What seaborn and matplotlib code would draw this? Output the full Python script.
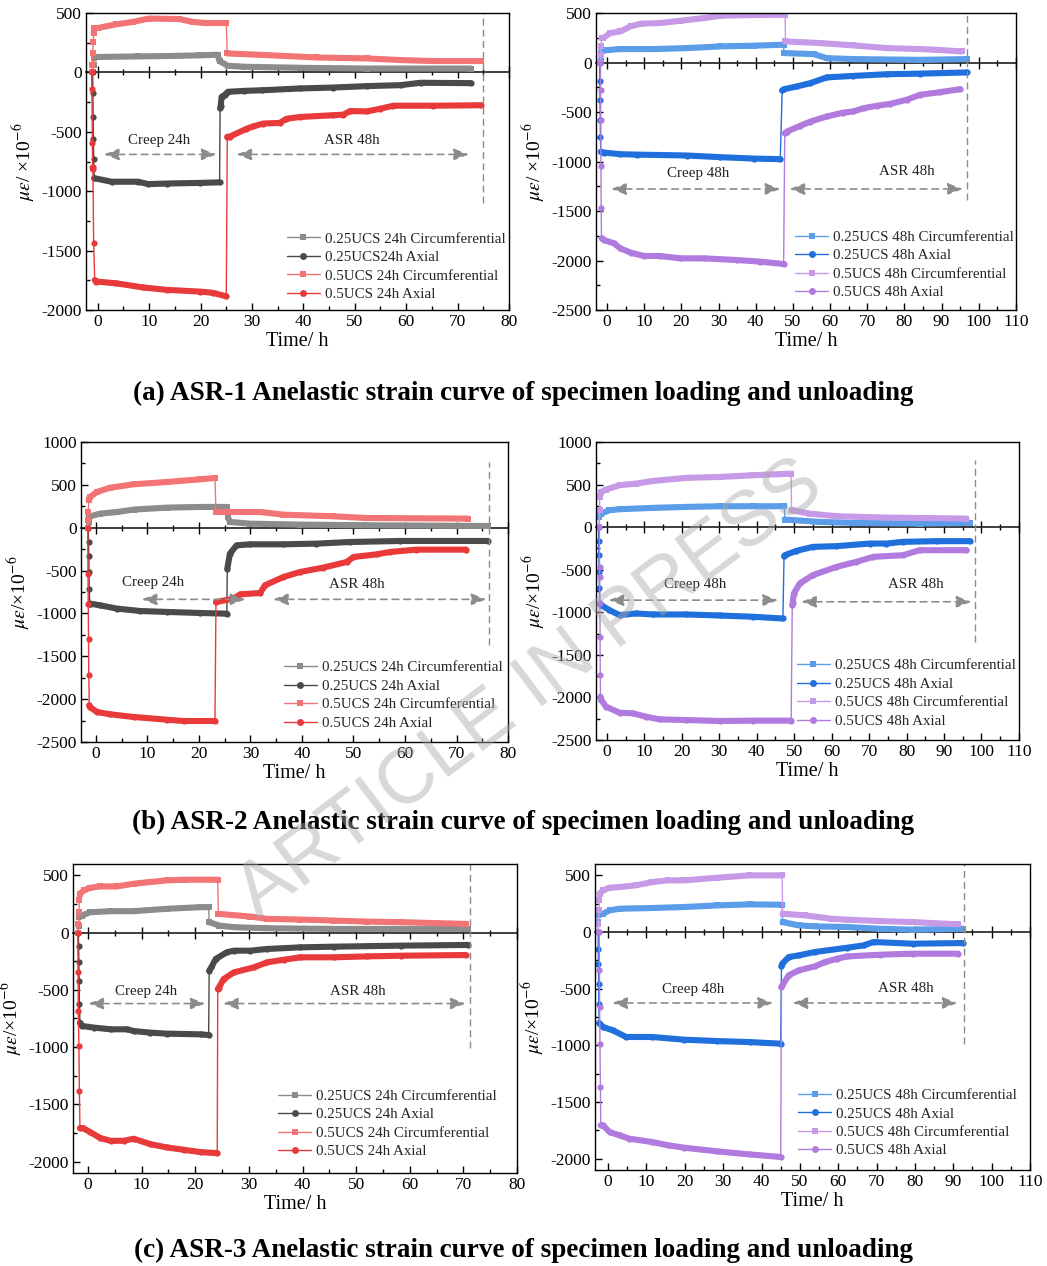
import numpy as np
import matplotlib
matplotlib.use("Agg")
import matplotlib.pyplot as plt
import seaborn as sns
import pandas as pd
from matplotlib.lines import Line2D
from matplotlib.ticker import MultipleLocator, NullFormatter

sns.set_theme(style="ticks")
plt.rcParams["font.family"] = ["Liberation Serif", "DejaVu Serif"]
plt.rcParams["mathtext.fontset"] = "stix"
plt.rcParams["axes.unicode_minus"] = False

# ---------------- (a) ASR-1, 24h ----------------
a1_c25_t = [-0.9, -0.8, -0.7, -0.3, 7.9, 13.4, 19.9, 23.3, 23.7, 25.3, 28.5, 39.3, 52.4, 72.6]
a1_c25_v = [0, 62, 118, 130, 135, 138, 144, 149, 95, 56, 48, 39, 33, 33]
a1_a25_t = [-1.0, -0.95, -0.9, -0.85, -0.8, -0.7, 2.7, 7.9, 9.8, 13.4, 19.9, 23.7, 23.8, 23.9,
            24.1, 24.7, 25.3, 28.5, 32.0, 39.3, 45.8, 52.4, 58.9, 62.8, 72.6]
a1_a25_v = [0, -176, -373, -558, -732, -890, -920, -920, -940, -935, -930, -925, -302, -285,
            -205, -190, -163, -155, -150, -135, -127, -115, -107, -87, -90]
a1_c50_t = [-1.2, -1.1, -1.0, -0.9, -0.8, -0.7, 0.1, 3.6, 6.8, 10.0, 15.9, 18.5, 21.0, 25.0,
            25.2, 32.8, 42.5, 52.4, 58.9, 65.3, 74.5]
a1_c50_v = [0, 62, 160, 258, 329, 371, 375, 405, 425, 454, 449, 425, 416, 416,
            160, 146, 126, 118, 104, 96, 96]
a1_a50_t = [-1.2, -1.15, -1.05, -1.0, -0.95, -0.8, -0.6, -0.3, 3.6, 8.8, 13.4, 19.9, 22.4, 25.0,
            25.2, 25.7, 28.9, 30.2, 32.2, 35.4, 36.7, 39.3, 45.8, 47.8, 49.1, 52.4, 55.0, 57.5,
            65.3, 74.5]
a1_a50_v = [0, -143, -597, -800, -815, -1439, -1748, -1760, -1775, -1810, -1830, -1845, -1855, -1885,
            -541, -540, -475, -455, -430, -425, -390, -375, -360, -355, -325, -328, -305, -280,
            -280, -276]

# ---------------- (a) ASR-1, 48h ----------------
a2_c25_t = [-1.8, -1.7, -1.6, -1.5, -1.1, 3.6, 12.5, 21.5, 30.5, 39.4, 47.5, 47.6, 55.6, 59.1,
            66.3, 84.2, 96.8]
a2_c25_v = [0, 34, 84, 118, 122, 136, 136, 146, 163, 170, 180, 96, 85, 44, 35, 27, 35]
a2_a25_t = [-2.0, -1.95, -1.9, -1.85, -1.8, -1.7, -0.9, 3.6, 8.1, 21.5, 30.5, 39.4, 46.6,
            47.1, 47.6, 51.0, 54.7, 59.1, 66.3, 75.3, 84.2, 96.8]
a2_a25_v = [0, -185, -377, -582, -751, -900, -909, -926, -930, -939, -956, -970, -976,
            -282, -269, -242, -208, -150, -135, -118, -112, -100]
a2_c50_t = [-1.8, -1.7, -1.6, -1.5, -1.1, 0.9, 3.6, 6.3, 9.0, 14.3, 19.7, 26.0, 30.5, 39.4, 47.9,
            48.0, 57.3, 66.3, 75.3, 84.2, 88.7, 95.4]
a2_c50_v = [0, 79, 163, 247, 247, 298, 315, 365, 392, 399, 422, 449, 473, 480, 483,
            213, 197, 173, 146, 136, 129, 112]
a2_a50_t = [-1.8, -1.75, -1.7, -1.65, -1.6, -1.5, -0.9, 1.8, 3.6, 6.3, 9.9, 14.3, 19.7, 26.0,
            34.9, 41.2, 47.5, 47.8, 48.4, 52.0, 54.7, 59.1, 63.6, 66.3, 69.0, 72.6, 76.2, 80.6,
            84.2, 89.6, 95.0]
a2_a50_v = [0, -282, -585, -1050, -1472, -1775, -1792, -1826, -1877, -1920, -1954, -1954, -1978, -1978,
            -1995, -2011, -2035, -714, -697, -639, -596, -545, -505, -494, -461, -437, -417, -376,
            -326, -299, -269]

# ---------------- (b) ASR-2, 24h ----------------
b1_c25_t = [-1.5, -1.45, -1.4, -1.1, 0.8, 4.1, 7.3, 13.8, 20.2, 25.4, 25.6, 26.0, 29.9, 39.6, 52.5, 76.1]
b1_c25_v = [0, 67, 125, 133, 164, 183, 211, 234, 242, 242, 125, 67, 47, 36, 28, 20]
b1_a25_t = [-1.5, -1.45, -1.4, -1.35, -1.3, -1.2, -1.1, 0.8, 4.1, 8.6, 13.8, 20.2, 25.4,
            25.5, 26.0, 27.3, 29.9, 36.4, 42.8, 49.3, 59.0, 76.1]
b1_a25_v = [0, -167, -334, -517, -711, -886, -886, -906, -944, -972, -983, -995, -1003,
            -478, -303, -206, -194, -194, -186, -167, -155, -155]
b1_c50_t = [-1.6, -1.55, -1.5, -1.4, -1.2, 0.2, 2.8, 7.3, 13.8, 20.2, 23.1,
            23.3, 31.9, 36.4, 46.1, 52.5, 72.2]
b1_c50_v = [0, 86, 183, 319, 358, 417, 467, 506, 533, 564, 580,
            183, 183, 152, 133, 113, 106]
b1_a50_t = [-1.6, -1.55, -1.5, -1.45, -1.4, -1.3, -1.2, 0.2, 2.8, 7.3, 13.8, 17.0, 23.1,
            23.3, 26.7, 28.0, 31.9, 32.8, 36.4, 39.6, 44.1, 48.7, 50.0, 54.5, 57.1, 62.2, 71.9]
b1_a50_v = [0, -544, -886, -1294, -1714, -2072, -2092, -2150, -2177, -2208, -2240, -2255, -2255,
            -867, -828, -777, -762, -672, -575, -517, -466, -400, -342, -311, -283, -256, -256]

# ---------------- (b) ASR-2, 48h ----------------
b2_c25_t = [-2.1, -2.0, -1.9, -1.5, 0.7, 3.4, 12.3, 21.2, 30.1, 39.0, 47.4,
            47.5, 56.8, 65.7, 83.5, 96.9]
b2_c25_v = [0, 117, 177, 159, 198, 210, 226, 237, 245, 245, 245, 89, 61, 50, 42, 50]
b2_a25_t = [-2.2, -2.15, -2.1, -2.05, -2.0, -1.9, -1.5, 0.7, 3.4, 7.8, 12.3, 21.2, 30.1, 39.0, 47.0,
            47.3, 47.5, 50.6, 55.0, 61.3, 70.2, 74.6, 79.1, 88.0, 96.9]
b2_a25_v = [0, -165, -330, -525, -721, -897, -916, -975, -1034, -1014, -1026, -1026, -1038, -1053, -1073,
            -342, -330, -279, -232, -224, -193, -193, -173, -165, -165]
b2_c50_t = [-2.0, -1.95, -1.9, -1.5, -0.2, 3.4, 7.8, 12.3, 21.2, 30.1, 39.0, 49.2,
            49.3, 54.1, 61.3, 74.6, 96.0]
b2_c50_v = [0, 196, 355, 413, 441, 492, 511, 542, 578, 589, 609, 628,
            198, 159, 128, 112, 100]
b2_a50_t = [-2.0, -1.95, -1.9, -1.85, -1.8, -1.75, -1.7, -1.5, -0.2, 3.4, 6.9, 10.5, 14.1, 21.2,
            30.1, 39.0, 49.2, 49.5, 49.6, 49.9, 51.5, 55.0, 61.3, 66.6, 71.1, 79.1, 83.5, 96.0]
b2_a50_v = [0, -467, -584, -897, -1288, -1738, -1992, -2031, -2109, -2180, -2187, -2227, -2258, -2266,
            -2277, -2273, -2273, -916, -897, -780, -662, -564, -467, -408, -349, -330, -271, -271]

# ---------------- (c) ASR-3, 24h ----------------
c1_c25_t = [-1.8, -1.75, -1.7, -1.1, 0.4, 4.2, 8.5, 14.7, 21.0, 22.5, 22.6, 24.5, 27.2, 33.4, 45.9, 70.8]
c1_c25_v = [0, 61, 135, 149, 178, 187, 187, 208, 222, 222, 91, 61, 47, 38, 32, 32]
c1_a25_t = [-1.8, -1.75, -1.7, -1.65, -1.6, -1.5, -1.1, 1.1, 4.2, 7.3, 8.5, 11.6, 14.7, 21.0, 22.5,
            22.6, 23.0, 23.8, 25.9, 27.2, 30.3, 33.4, 39.6, 45.9, 58.3, 70.8]
c1_a25_v = [0, -114, -260, -421, -620, -787, -816, -830, -845, -845, -860, -874, -883, -889, -895,
            -333, -304, -231, -172, -158, -158, -143, -129, -123, -114, -108]
c1_c50_t = [-1.9, -1.8, -1.7, -1.6, -1.5, -0.8, 0.4, 2.3, 5.4, 8.5, 11.6, 14.7, 17.9, 24.2,
            24.3, 30.3, 33.4, 39.6, 45.9, 52.1, 58.3, 70.4]
c1_c50_v = [0, 76, 178, 281, 339, 368, 392, 403, 403, 427, 442, 456, 462, 462,
            164, 140, 120, 114, 105, 96, 91, 76]
c1_a50_t = [-1.9, -1.85, -1.8, -1.7, -1.6, -1.5, -0.9, 0.4, 2.3, 4.2, 6.7, 8.5, 11.6, 14.7, 17.9,
            21.0, 24.1, 24.2, 24.4, 25.3, 27.2, 30.9, 33.4, 36.5, 39.6, 45.9, 52.1, 58.3, 70.4]
c1_a50_v = [0, -348, -684, -991, -1380, -1708, -1708, -1743, -1795, -1819, -1819, -1801, -1848, -1877,
            -1898, -1918, -1927, -494, -480, -406, -348, -304, -260, -237, -216, -216, -208, -202, -196]

# ---------------- (c) ASR-3, 48h ----------------
c2_c25_t = [-2.6, -2.55, -2.5, -1.3, 0.4, 3.0, 11.5, 19.9, 28.4, 36.9, 45.4,
            45.5, 49.7, 53.9, 62.4, 70.9, 79.4, 92.5]
c2_c25_v = [0, 88, 147, 162, 191, 206, 212, 221, 235, 244, 241, 88, 59, 50, 44, 29, 21, 29]
c2_a25_t = [-2.6, -2.55, -2.5, -2.45, -2.4, -2.3, -1.3, 1.3, 4.7, 11.5, 19.9, 28.4, 36.9, 45.0,
            45.2, 45.4, 47.1, 49.7, 53.9, 62.4, 66.6, 69.2, 79.4, 92.5]
c2_a25_v = [0, -147, -285, -456, -632, -803, -838, -868, -926, -926, -950, -962, -971, -985,
            -303, -279, -221, -206, -176, -138, -118, -88, -103, -97]
c2_c50_t = [-2.6, -2.5, -2.4, -2.3, -2.2, -1.3, 0.4, 3.0, 7.2, 11.5, 15.7, 19.9, 28.4, 36.9, 45.4,
            45.5, 51.4, 58.1, 62.4, 70.9, 79.4, 91.3]
c2_c50_v = [0, 74, 191, 279, 338, 368, 391, 397, 412, 441, 456, 456, 479, 500, 500,
            162, 147, 118, 109, 97, 88, 68]
c2_a50_t = [-2.3, -2.25, -2.2, -2.1, -2.0, -1.9, -1.3, 0.4, 3.0, 5.5, 11.5, 15.7, 19.9, 28.4, 36.9,
            45.0, 45.2, 45.4, 47.1, 49.7, 53.9, 56.5, 59.8, 62.4, 70.9, 79.4, 91.3]
c2_a50_v = [0, -338, -662, -985, -1368, -1706, -1706, -1765, -1794, -1823, -1853, -1882, -1903, -1935,
            -1962, -1985, -485, -471, -382, -338, -303, -265, -235, -215, -200, -191, -191]

COLORS_24 = ["#8c8c8c", "#4a4a4a", "#f27474", "#e83a3a"]
COLORS_48 = ["#5b9de9", "#1f6fdc", "#c79ae7", "#b07ade"]
MARKERS = ["s", "o", "s", "o"]

LABELS_A1 = ["0.25UCS 24h Circumferential", "0.25UCS24h Axial",
             "0.5UCS 24h Circumferential", "0.5UCS 24h Axial"]
LABELS_24 = ["0.25UCS 24h Circumferential", "0.25UCS 24h Axial",
             "0.5UCS 24h Circumferential", "0.5UCS 24h Axial"]
LABELS_48 = ["0.25UCS 48h Circumferential", "0.25UCS 48h Axial",
             "0.5UCS 48h Circumferential", "0.5UCS 48h Axial"]

CAPTIONS = ["(a) ASR-1 Anelastic strain curve of specimen loading and unloading",
            "(b) ASR-2 Anelastic strain curve of specimen loading and unloading",
            "(c) ASR-3 Anelastic strain curve of specimen loading and unloading"]


def thick_path(t, v, lim=500):
    # break the thick band where the curve jumps (loading / unloading)
    xs, ys = [t[0]], [v[0]]
    for i in range(1, len(t)):
        dt = t[i] - t[i - 1]
        if dt <= 0 or abs(v[i] - v[i - 1]) / dt > lim:
            xs.append(np.nan)
            ys.append(np.nan)
        xs.append(t[i])
        ys.append(v[i])
    return xs, ys


def draw_panel(ax, series, colors, labels, xlim, ylim, ylabel, end_line, creep, asr, leg_xy):
    for (t, v), c, m in zip(series, colors, MARKERS):
        df = pd.DataFrame({"t": t, "v": v})
        sns.lineplot(data=df, x="t", y="v", ax=ax, color=c, lw=1.0, marker=m,
                     markersize=4.5, markeredgewidth=0, sort=False, estimator=None,
                     legend=False)
        xs, ys = thick_path(t, v)
        ax.plot(xs, ys, color=c, lw=4.4, solid_capstyle="round")

    ax.set_xlim(*xlim)
    ax.set_ylim(*ylim)
    ax.xaxis.set_major_locator(MultipleLocator(10))
    ax.xaxis.set_minor_locator(MultipleLocator(5))
    ax.yaxis.set_major_locator(MultipleLocator(500))
    ax.yaxis.set_minor_locator(MultipleLocator(250))
    ax.tick_params(which="both", direction="in", top=False, right=False,
                   labelsize=12.5, width=1, pad=3, colors="black")
    ax.tick_params(which="major", length=5)
    ax.tick_params(which="minor", length=3)
    for s in ax.spines.values():
        s.set_color("black")
        s.set_linewidth(1)

    # zero line axis with crossing ticks
    frac = (0 - ylim[0]) / (ylim[1] - ylim[0])
    sec = ax.secondary_xaxis(frac)
    sec.xaxis.set_major_locator(MultipleLocator(10))
    sec.xaxis.set_minor_locator(MultipleLocator(5))
    sec.xaxis.set_major_formatter(NullFormatter())
    sec.tick_params(which="both", direction="inout", labelbottom=False, labeltop=False,
                    width=1, colors="black")
    sec.tick_params(which="major", length=9)
    sec.tick_params(which="minor", length=5)
    sec.spines["bottom"].set_linewidth(1.1)
    sec.spines["bottom"].set_color("black")

    ax.set_xlabel("Time/ h", fontsize=14.5, labelpad=1, color="black")
    ax.set_ylabel(ylabel, fontsize=14, labelpad=3, color="black")

    ex, ey0, ey1 = end_line
    ax.plot([ex, ex], [ey0, ey1], ls=(0, (5, 3)), color="#8c8c8c", lw=1)

    for txt, (tx, ty), (x0, x1, ay) in (creep, asr):
        ax.text(tx, ty, txt, ha="center", va="center", fontsize=10.8, color="#222222")
        ax.annotate("", xy=(x1, ay), xytext=(x0, ay),
                    arrowprops=dict(arrowstyle="<|-|>,head_length=0.9,head_width=0.35",
                                    ls=(0, (4, 3)), color="#8c8c8c", lw=1.2,
                                    shrinkA=0, shrinkB=0, mutation_scale=10))

    handles = [Line2D([], [], color=c, lw=1.0, marker=m, ms=5, markeredgewidth=0)
               for c, m in zip(colors, MARKERS)]
    ax.legend(handles, labels, loc="upper left", bbox_to_anchor=leg_xy, frameon=False,
              fontsize=10.8, handlelength=2.2, handletextpad=0.35, labelspacing=0.33,
              borderpad=0, borderaxespad=0)


fig = plt.figure(figsize=(10.47, 12.66), dpi=100)
fig.patch.set_facecolor("white")

axA1 = fig.add_axes([0.0821, 0.7551, 0.4040, 0.2346])
axA2 = fig.add_axes([0.5692, 0.7551, 0.4011, 0.2346])
axB1 = fig.add_axes([0.0774, 0.4139, 0.4078, 0.2370])
axB2 = fig.add_axes([0.5692, 0.4155, 0.4040, 0.2354])
axC1 = fig.add_axes([0.0697, 0.0735, 0.4241, 0.2441])
axC2 = fig.add_axes([0.5683, 0.0758, 0.4155, 0.2417])

lab_a = r"$\mu\varepsilon$/ ×10$^{-6}$"
lab_bc = r"$\mu\varepsilon$/×10$^{-6}$"

draw_panel(axA1, [(a1_c25_t, a1_c25_v), (a1_a25_t, a1_a25_v), (a1_c50_t, a1_c50_v), (a1_a50_t, a1_a50_v)],
           COLORS_24, LABELS_A1, (-2.3, 80), (-2000, 500), lab_a, (74.9, -1100, 500),
           ("Creep 24h", (12, -570), (1.2, 23.1, -690)),
           ("ASR 48h", (49.4, -570), (27, 72.2, -690)), (0.475, 0.262))
draw_panel(axA2, [(a2_c25_t, a2_c25_v), (a2_a25_t, a2_a25_v), (a2_c50_t, a2_c50_v), (a2_a50_t, a2_a50_v)],
           COLORS_48, LABELS_48, (-3, 110), (-2500, 500), lab_a, (96.8, -1390, 500),
           ("Creep 48h", (24.6, -1118), (1.1, 46.6, -1277)),
           ("ASR 48h", (80.6, -1101), (49.1, 95.7, -1277)), (0.474, 0.268))
draw_panel(axB1, [(b1_c25_t, b1_c25_v), (b1_a25_t, b1_a25_v), (b1_c50_t, b1_c50_v), (b1_a50_t, b1_a50_v)],
           COLORS_24, LABELS_24, (-2.9, 80), (-2500, 1000), lab_bc, (76.3, -1372, 767),
           ("Creep 24h", (11, -645), (8.9, 29, -836)),
           ("ASR 48h", (50.7, -661), (34.4, 75.8, -836)), (0.475, 0.270))
draw_panel(axB2, [(b2_c25_t, b2_c25_v), (b2_a25_t, b2_a25_v), (b2_c50_t, b2_c50_v), (b2_a50_t, b2_a50_v)],
           COLORS_48, LABELS_48, (-2.9, 110), (-2500, 1000), lab_bc, (98.4, -1347, 785),
           ("Creep 48h", (23.6, -674), (0.5, 45.7, -858)),
           ("ASR 48h", (82.6, -674), (51.9, 97.3, -877)), (0.475, 0.272))
draw_panel(axC1, [(c1_c25_t, c1_c25_v), (c1_a25_t, c1_a25_v), (c1_c50_t, c1_c50_v), (c1_a50_t, c1_a50_v)],
           COLORS_24, LABELS_24, (-2.8, 80), (-2100, 600), lab_bc, (71.2, -1006, 600),
           ("Creep 24h", (10.8, -515), (0.1, 21.9, -620)),
           ("ASR 48h", (50.3, -515), (25.2, 70.4, -620)), (0.462, 0.270))
draw_panel(axC2, [(c2_c25_t, c2_c25_v), (c2_a25_t, c2_a25_v), (c2_c50_t, c2_c50_v), (c2_a50_t, c2_a50_v)],
           COLORS_48, LABELS_48, (-3.4, 110), (-2100, 600), lab_bc, (92.8, -985, 600),
           ("Creep 48h", (22.1, -509), (1.1, 43, -626)),
           ("ASR 48h", (77.7, -494), (48.1, 91.1, -626)), (0.467, 0.266))

for y, cap in zip([0.6896, 0.3507, 0.0126], CAPTIONS):
    fig.text(0.5, y, cap, ha="center", va="center", fontsize=19.5, fontweight="bold", color="black")

fig.text(0.506, 0.455, "ARTICLE IN PRESS", fontsize=56, rotation=37, color="#a8a8a8",
         alpha=0.45, ha="center", va="center", family="Liberation Sans", zorder=10)

fig.savefig("out.png", dpi=100)
